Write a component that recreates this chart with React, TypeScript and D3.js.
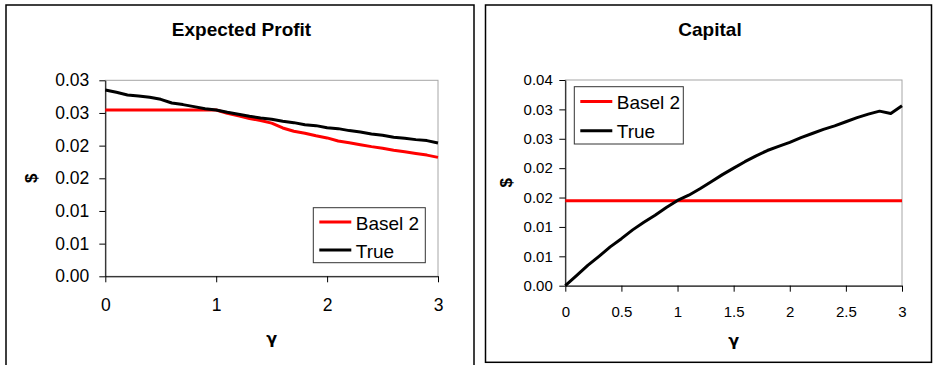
import { useEffect, useRef } from 'react';
import * as d3 from 'd3';

const FONT = 'Arial, "Liberation Sans", sans-serif';

// x values (gamma)
const gamma = [0, 0.1, 0.2, 0.3, 0.4, 0.5, 0.6, 0.7, 0.8, 0.9, 1, 1.1, 1.2, 1.3, 1.4, 1.5, 1.6, 1.7, 1.8, 1.9, 2, 2.1, 2.2, 2.3, 2.4, 2.5, 2.6, 2.7, 2.8, 2.9, 3];

const seriesNames = ['Basel 2', 'True'];
const seriesColors = ['#ff0000', '#000000'];

// Expected Profit
const profitBasel2 = [0.02545, 0.02545, 0.02545, 0.02545, 0.02545, 0.02545, 0.02545, 0.02545, 0.02545, 0.02545, 0.02545, 0.02495, 0.02455, 0.02415, 0.02385, 0.02345, 0.0227, 0.0222, 0.0219, 0.0215, 0.02118, 0.0207, 0.02045, 0.02015, 0.01985, 0.0196, 0.0193, 0.01905, 0.0188, 0.01855, 0.0182];
const profitTrue = [0.02852, 0.02816, 0.02776, 0.0276, 0.0274, 0.02709, 0.02653, 0.02628, 0.02597, 0.02566, 0.02546, 0.0251, 0.0248, 0.02449, 0.02423, 0.02403, 0.02372, 0.02352, 0.02321, 0.02306, 0.02275, 0.0226, 0.0223, 0.02209, 0.02179, 0.02158, 0.02128, 0.02112, 0.02092, 0.02077, 0.0204];
const profitYTicks = [0, 0.005, 0.01, 0.015, 0.02, 0.025, 0.03];
const profitYLabels = ['0.00', '0.01', '0.01', '0.02', '0.02', '0.03', '0.03'];
const profitXTicks = [0, 1, 2, 3];
const profitXLabels = ['0', '1', '2', '3'];

// Capital
const capitalBasel2 = [0.01446, 0.01446, 0.01446, 0.01446, 0.01446, 0.01446, 0.01446, 0.01446, 0.01446, 0.01446, 0.01446, 0.01446, 0.01446, 0.01446, 0.01446, 0.01446, 0.01446, 0.01446, 0.01446, 0.01446, 0.01446, 0.01446, 0.01446, 0.01446, 0.01446, 0.01446, 0.01446, 0.01446, 0.01446, 0.01446, 0.01446];
const capitalTrue = [0, 0.0017, 0.00345, 0.005, 0.0066, 0.008, 0.0095, 0.0108, 0.012, 0.0133, 0.0145, 0.0154, 0.0165, 0.0177, 0.0189, 0.02, 0.0211, 0.0221, 0.023, 0.0237, 0.0244, 0.0252, 0.0259, 0.0266, 0.0272, 0.0279, 0.0286, 0.0292, 0.0297, 0.0293, 0.0306];
const capitalYTicks = [0, 0.005, 0.01, 0.015, 0.02, 0.025, 0.03, 0.035];
const capitalYLabels = ['0.00', '0.01', '0.01', '0.02', '0.02', '0.03', '0.03', '0.04'];
const capitalXTicks = [0, 0.5, 1, 1.5, 2, 2.5, 3];
const capitalXLabels = ['0', '0.5', '1', '1.5', '2', '2.5', '3'];

const panels = [
  {
    title: 'Expected Profit', frame: [6, 5, 468, 380], titleY: 35.5,
    left: 105.3, right: 438, top: 80.3, bottom: 276.3, yMax: 0.03,
    yTicks: profitYTicks, yLabels: profitYLabels, xTicks: profitXTicks, xLabels: profitXLabels,
    series: [profitBasel2, profitTrue], tickFont: 17.5, yPad: 10, xPad: 16.5,
    legend: [313.3, 207.7, 112, 55], gammaY: 344, dollarX: 31,
  },
  {
    title: 'Capital', frame: [485.5, 5, 446, 357.3], titleY: 36,
    left: 565.3, right: 902, top: 80, bottom: 285.7, yMax: 0.035,
    yTicks: capitalYTicks, yLabels: capitalYLabels, xTicks: capitalXTicks, xLabels: capitalXLabels,
    series: [capitalBasel2, capitalTrue], tickFont: 15, yPad: 6.5, xPad: 15,
    legend: [574.3, 86.7, 109, 57.3], gammaY: 346, dollarX: 506,
  },
];

function App() {
  const svgRef = useRef(null);

  useEffect(() => {
    const svg = d3.select(svgRef.current);
    svg.selectAll('*').remove();

    panels.forEach(p => {
      const g = svg.append('g');
      g.append('rect')
        .attr('x', p.frame[0]).attr('y', p.frame[1])
        .attr('width', p.frame[2]).attr('height', p.frame[3])
        .attr('fill', '#fff').attr('stroke', '#000').attr('stroke-width', 1.5);

      const x = d3.scaleLinear().domain([0, 3]).range([p.left, p.right]);
      const y = d3.scaleLinear().domain([0, p.yMax]).range([p.bottom, p.top]);

      // plot area outline (grey)
      g.append('rect')
        .attr('x', p.left).attr('y', p.top)
        .attr('width', p.right - p.left).attr('height', p.bottom - p.top)
        .attr('fill', 'none').attr('stroke', '#a6a6a6');

      const yAxis = d3.axisLeft(y)
        .tickValues(p.yTicks)
        .tickFormat((d, i) => p.yLabels[i])
        .tickSizeInner(6).tickSizeOuter(0).tickPadding(p.yPad);
      g.append('g')
        .attr('transform', `translate(${p.left},0)`)
        .call(yAxis)
        .attr('font-family', FONT).attr('font-size', p.tickFont);

      const xAxis = d3.axisBottom(x)
        .tickValues(p.xTicks)
        .tickFormat((d, i) => p.xLabels[i])
        .tickSizeInner(6).tickSizeOuter(0).tickPadding(p.xPad);
      g.append('g')
        .attr('transform', `translate(0,${p.bottom})`)
        .call(xAxis)
        .attr('font-family', FONT).attr('font-size', p.tickFont);

      // lines
      const line = d3.line().x((d, i) => x(gamma[i])).y(d => y(d));
      p.series.forEach((s, k) => {
        g.append('path')
          .attr('d', line(s))
          .attr('fill', 'none')
          .attr('stroke', seriesColors[k])
          .attr('stroke-width', 3)
          .attr('stroke-linejoin', 'round');
      });

      // legend
      const [lx, ly, lw, lh] = p.legend;
      g.append('rect').attr('x', lx).attr('y', ly).attr('width', lw).attr('height', lh)
        .attr('fill', '#fff').attr('stroke', '#333');
      seriesNames.forEach((name, k) => {
        const cy = ly + lh * (k === 0 ? 0.26 : 0.77);
        g.append('line').attr('x1', lx + 6).attr('x2', lx + 38).attr('y1', cy).attr('y2', cy)
          .attr('stroke', seriesColors[k]).attr('stroke-width', 3);
        g.append('text').attr('x', lx + 42.5).attr('y', cy + 7.5)
          .attr('font-family', FONT).attr('font-size', 19).text(name);
      });

      // title
      g.append('text')
        .attr('x', (p.frame[0] + p.frame[0] + p.frame[2]) / 2 + 1.5).attr('y', p.titleY)
        .attr('text-anchor', 'middle').attr('font-family', FONT)
        .attr('font-size', 19).attr('font-weight', 'bold').text(p.title);

      // axis titles
      g.append('text')
        .attr('x', (p.left + p.right) / 2).attr('y', p.gammaY)
        .attr('text-anchor', 'middle').attr('font-family', '"DejaVu Sans", sans-serif')
        .attr('font-size', 16).attr('font-weight', 'bold').text('γ');
      g.append('text')
        .attr('transform', `translate(${p.dollarX},${(p.top + p.bottom) / 2}) rotate(-90)`)
        .attr('text-anchor', 'middle').attr('dominant-baseline', 'central')
        .attr('font-family', FONT).attr('font-size', 17).attr('font-weight', 'bold').text('$');
    });
  }, []);

  return (
    <svg ref={svgRef} width={933} height={365}
      style={{ position: 'absolute', left: 0, top: 0, background: '#fff' }} />
  );
}

export default App;
